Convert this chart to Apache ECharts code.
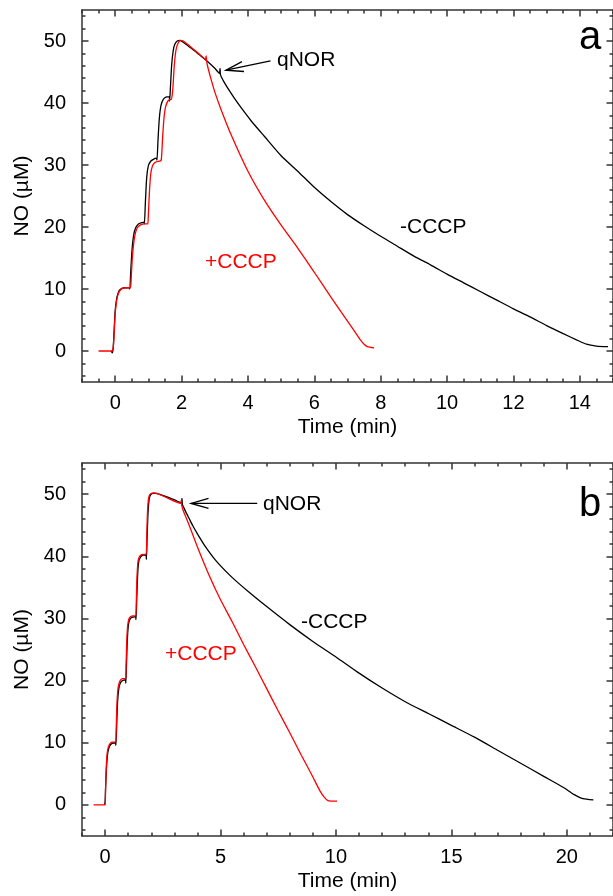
<!DOCTYPE html>
<html><head><meta charset="utf-8">
<script src="https://cdn.jsdelivr.net/npm/echarts@6/dist/echarts.min.js"></script>
<style>html,body{margin:0;padding:0;background:#fff;overflow:hidden}#c{width:613px;height:896px}</style>
</head><body><div id="c"></div>
<script>
// ---------- Panel a data ----------
const aBlackT = [-0.12,-0.09,-0.06,-0.03,0.0,0.04,0.08,0.13,0.2,0.3,0.42,0.44,0.47,0.51,0.56,0.62,0.7,0.8,0.86,0.88,0.91,0.95,1.0,1.07,1.15,1.24,1.26,1.29,1.33,1.38,1.45,1.55,1.63,1.64,1.66,1.7,1.75,1.8,1.87,1.95,2.05,2.2,2.4,2.6,2.8,3.0,3.14,3.16,3.17,3.2,3.3,3.45,3.6,3.8,4.1,4.5,5.0,5.5,6.0,6.5,7.0,7.5,8.0,8.5,9.0,9.5,10.0,10.5,11.0,11.5,12.0,12.5,13.0,13.5,13.9,14.2,14.5,14.85];
const aBlackV = [0,-0.3,0.5,3.5,6.5,8.3,9.2,9.8,10.1,10.2,10.2,10.0,13,16.5,18.8,19.9,20.5,20.7,20.8,20.5,24,28,29.9,30.6,30.9,31.1,30.8,34,37.5,39.6,40.6,41.0,41.0,40.3,42,46,48.5,49.5,50.0,50.1,49.8,49.2,48.4,47.5,46.6,45.6,44.8,45.6,44.6,44.2,43.2,41.9,40.7,39.2,37.1,34.6,31.5,29.0,26.4,24.1,22.0,20.2,18.5,16.9,15.3,13.9,12.4,11.0,9.6,8.2,6.8,5.5,4.1,2.8,1.8,1.1,0.8,0.7];
const aRedT = [-0.5,-0.1,-0.06,-0.03,0.0,0.04,0.09,0.15,0.22,0.32,0.46,0.48,0.51,0.55,0.6,0.66,0.75,0.9,0.98,1.0,1.03,1.07,1.12,1.2,1.3,1.38,1.4,1.43,1.47,1.52,1.6,1.7,1.72,1.74,1.78,1.83,1.89,1.97,2.05,2.2,2.4,2.6,2.72,2.74,2.76,2.8,2.9,3.0,3.2,3.5,4.0,4.5,5.0,5.5,6.0,6.5,7.0,7.25,7.4,7.5,7.6,7.8];
const aRedV = [0,0,0.5,3,6,8,9.2,9.8,10.1,10.2,10.2,11.5,14.5,17,18.8,19.8,20.3,20.5,20.5,22,25.5,28.5,29.8,30.4,30.6,30.7,31.5,34.5,37.5,39.4,40.4,40.6,40.6,42.5,46,48.5,49.6,50.1,50.0,49.4,48.5,47.6,47.0,47.6,46.6,45.6,43.6,41.8,38.8,34.8,29.0,24.3,20.3,16.6,12.7,8.7,4.8,2.9,1.7,1.1,0.7,0.5];

// ---------- Panel b data ----------
const bBlackT = [-0.02,0.0,0.03,0.07,0.12,0.2,0.3,0.45,0.47,0.5,0.54,0.59,0.66,0.75,0.88,0.9,0.93,0.97,1.02,1.1,1.2,1.32,1.34,1.37,1.41,1.46,1.54,1.65,1.77,1.79,1.82,1.86,1.91,1.98,2.08,2.2,2.5,2.8,3.1,3.3,3.33,3.35,3.4,3.5,3.65,3.8,4.0,4.3,4.8,5.5,6.24,7.0,8.0,9.0,10.0,11.0,12.0,13.0,14.0,15.0,16.0,17.0,18.0,19.0,19.86,20.3,20.7,21.15];
const bBlackV = [0,0.5,3.5,6.5,8.5,9.5,9.9,10.0,9.6,12.5,16.5,18.6,19.6,20.0,20.1,19.6,23,27,29.2,30.0,30.2,30.3,29.8,33,37,39.2,39.9,40.2,40.2,39.5,43,47,49.2,49.9,50.1,50.1,49.8,49.4,48.9,48.6,49.3,48.3,47.9,47.1,46.0,44.9,43.6,41.8,39.3,36.6,34.2,31.9,29.0,26.3,23.8,21.2,18.8,16.6,14.7,12.8,10.9,8.8,6.7,4.6,2.8,1.7,1.0,0.8];
const bRedT = [-0.5,0.0,0.02,0.05,0.09,0.14,0.22,0.32,0.46,0.48,0.51,0.55,0.6,0.67,0.76,0.89,0.91,0.94,0.98,1.03,1.11,1.21,1.33,1.35,1.38,1.42,1.47,1.55,1.66,1.78,1.8,1.83,1.87,1.92,1.99,2.1,2.25,2.5,2.8,3.1,3.28,3.3,3.32,3.4,3.6,4.0,4.5,5.0,5.5,6.0,6.5,7.0,7.5,8.0,8.5,9.0,9.3,9.5,9.65,10.05];
const bRedV = [0,0,2.5,6,8.3,9.3,9.9,10.1,10.1,12,16,18.4,19.5,20.1,20.3,20.3,22.5,26.5,28.9,29.9,30.3,30.4,30.4,32.5,36.5,39,39.8,40.2,40.3,40.3,42.5,46.5,48.9,49.8,50.1,50.2,50.1,49.7,49.2,48.7,48.5,49.0,48.2,47.2,45.4,41.5,37.0,33.0,29.5,25.8,22.3,18.7,15.1,11.6,8.0,4.5,2.3,1.2,0.7,0.6];

// ---------- axes / ticks ----------
const aXLabels = [0,2,4,6,8,10,12,14];
const bXLabels = [0,5,10,15,20];
const yLabels = [0,10,20,30,40,50];
const aXRange = [-1, 15];
const bXRange = [-1, 22];
const yRange = [-5, 55];
const aXMinorStep = 0.5, bXMinorStep = 1, yMinorStep = 2;

// ---------- annotations (data coords) ----------
const aArrow = {tail: [4.68, 46.8], tip: [3.34, 45.3]};
const bArrow = {tail: [6.59, 48.5], tip: [3.73, 48.5]};

function pairs(t, v) { return t.map((x, i) => [x, v[i]]); }
function minorTicks(lo, hi, step) {
  const out = [];
  const start = Math.ceil(lo / step) * step;
  for (let k = 0; start + k * step <= hi + 1e-9; k++) out.push(+(start + k * step).toFixed(4));
  return out;
}

const FONT = 'Liberation Sans, Arial, sans-serif';
const BOX = {color: '#333', width: 1.5};

function axesFor(grid, xr, xLab, xStep, yr, yLab, yStep) {
  const xs = [], ys = [];
  const xMinor = minorTicks(xr[0], xr[1], xStep);
  const yMinor = minorTicks(yr[0], yr[1], yStep);
  const baseX = {type: 'value', gridIndex: grid, min: xr[0], max: xr[1], interval: 1, splitLine: {show: false}};
  const baseY = {type: 'value', gridIndex: grid, min: yr[0], max: yr[1], interval: 5, splitLine: {show: false}};
  ['bottom', 'top'].forEach(pos => {
    xs.push(Object.assign({}, baseX, {
      position: pos,
      axisLine: {show: true, onZero: false, lineStyle: BOX},
      axisTick: {show: true, inside: true, length: 3.5, customValues: xMinor, lineStyle: BOX},
      axisLabel: {show: false}
    }));
    xs.push(Object.assign({}, baseX, {
      position: pos,
      axisLine: {show: false, onZero: false},
      axisTick: {show: true, inside: true, length: 6.5, customValues: xLab, lineStyle: BOX},
      axisLabel: pos === 'bottom' ? {show: true, customValues: xLab, margin: 11, fontSize: 20, color: '#000', fontFamily: FONT} : {show: false},
      name: pos === 'bottom' ? 'Time (min)' : '',
      nameLocation: 'middle', nameGap: 35,
      nameTextStyle: {fontSize: 21, color: '#000', fontFamily: FONT}
    }));
  });
  ['left', 'right'].forEach(pos => {
    ys.push(Object.assign({}, baseY, {
      position: pos,
      axisLine: {show: true, onZero: false, lineStyle: BOX},
      axisTick: {show: true, inside: true, length: 3.5, customValues: yMinor, lineStyle: BOX},
      axisLabel: {show: false}
    }));
    ys.push(Object.assign({}, baseY, {
      position: pos,
      axisLine: {show: false, onZero: false},
      axisTick: {show: true, inside: true, length: 6.5, customValues: yLab, lineStyle: BOX},
      axisLabel: pos === 'left' ? {show: true, customValues: yLab, margin: 16, fontSize: 20, color: '#000', fontFamily: FONT} : {show: false},
      name: pos === 'left' ? 'NO (µM)' : '',
      nameLocation: 'middle', nameGap: 46,
      nameTextStyle: {fontSize: 21, color: '#000', fontFamily: FONT}
    }));
  });
  return {xs, ys};
}

const A = axesFor(0, aXRange, aXLabels, aXMinorStep, yRange, yLabels, yMinorStep);
const B = axesFor(1, bXRange, bXLabels, bXMinorStep, yRange, yLabels, yMinorStep);

function lineSeries(xi, yi, data, color) {
  return {type: 'line', xAxisIndex: xi, yAxisIndex: yi, data, showSymbol: false, symbol: 'none',
    smooth: 0.2,
    lineStyle: {color, width: 1.3}, itemStyle: {color}, animation: false, silent: true};
}

function txt(x, y, s, size, color) {
  return {type: 'text', x, y, style: {text: s, x: 0, y: 0, fontSize: size, fill: color, fontFamily: FONT, verticalAlign: 'middle', align: 'left'}};
}

const chart = echarts.init(document.getElementById('c'), null, {renderer: 'canvas'});
chart.setOption({
  animation: false,
  backgroundColor: '#fff',
  grid: [
    {left: 82, top: 10, width: 535, height: 372},
    {left: 82, top: 463, width: 535, height: 373}
  ],
  xAxis: A.xs.concat(B.xs),
  yAxis: A.ys.concat(B.ys),
  series: [
    lineSeries(0, 0, pairs(aBlackT, aBlackV), '#000'),
    lineSeries(0, 0, pairs(aRedT, aRedV), '#ff0000'),
    lineSeries(4, 4, pairs(bBlackT, bBlackV), '#000'),
    lineSeries(4, 4, pairs(bRedT, bRedV), '#ff0000')
  ]
});

function arrowEls(xi, yi, arr) {
  const p0 = chart.convertToPixel({xAxisIndex: xi, yAxisIndex: yi}, arr.tail);
  const p1 = chart.convertToPixel({xAxisIndex: xi, yAxisIndex: yi}, arr.tip);
  const ang = Math.atan2(p0[1] - p1[1], p0[0] - p1[0]);
  const L = 18, h = 16 * Math.PI / 180;
  const w1 = [p1[0] + L * Math.cos(ang + h), p1[1] + L * Math.sin(ang + h)];
  const w2 = [p1[0] + L * Math.cos(ang - h), p1[1] + L * Math.sin(ang - h)];
  const st = {stroke: '#000', lineWidth: 1.4, fill: null};
  return [
    {type: 'polyline', shape: {points: [p0, p1]}, style: st},
    {type: 'polyline', shape: {points: [w1, p1, w2]}, style: st}
  ];
}

chart.setOption({
  graphic: [].concat(
    arrowEls(0, 0, aArrow),
    arrowEls(4, 4, bArrow),
    [
      txt(277, 60, 'qNOR', 21, '#000'),
      txt(400, 227, '-CCCP', 21, '#000'),
      txt(205, 262, '+CCCP', 21, '#ff0000'),
      txt(579, 38, 'a', 40, '#000'),
      txt(263, 504, 'qNOR', 21, '#000'),
      txt(301, 622, '-CCCP', 21, '#000'),
      txt(165, 654, '+CCCP', 21, '#ff0000'),
      txt(579, 505, 'b', 40, '#000')
    ]
  )
});
</script>
</body></html>
